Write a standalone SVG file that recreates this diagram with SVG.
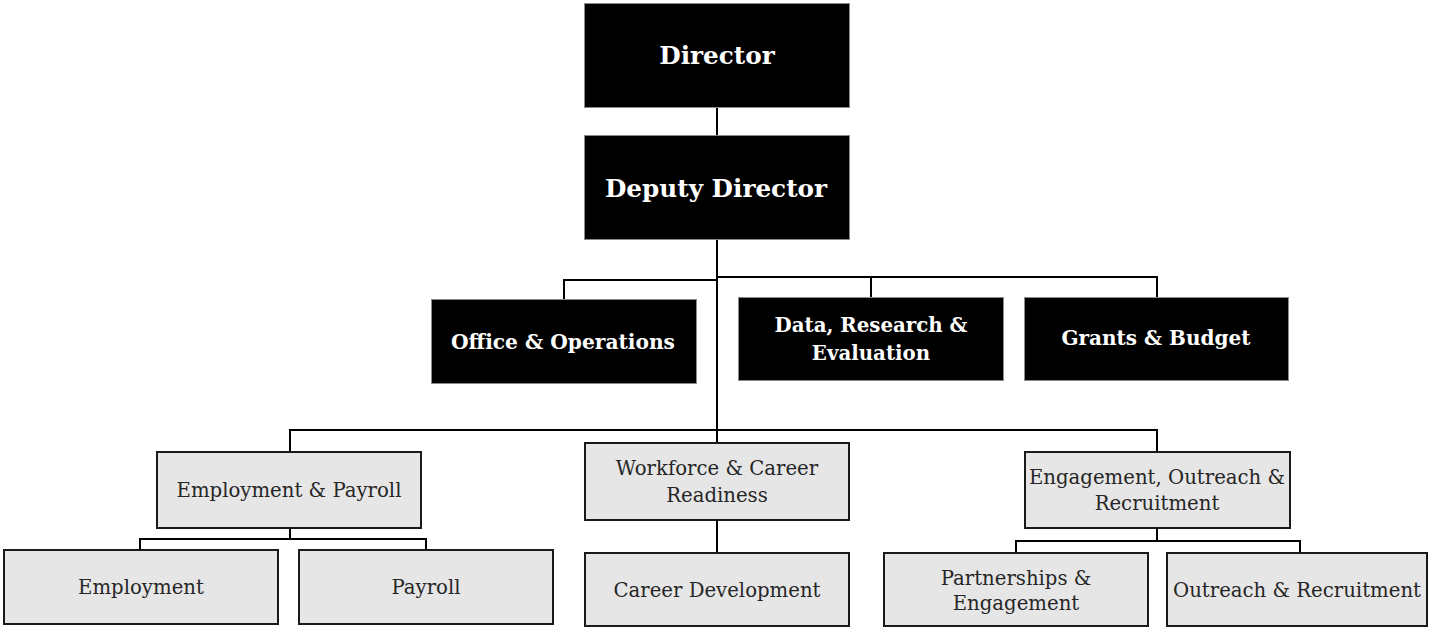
<svg xmlns="http://www.w3.org/2000/svg" width="1429" height="628" viewBox="0 0 1429 628">
<style>
.bk{fill:#000;stroke:#8a8a8a;stroke-width:1}
.gr{fill:#e6e6e6;stroke:#1a1a1a;stroke-width:2}
.tb{font-family:"DejaVu Serif","Liberation Serif",serif;font-weight:bold;fill:#fff;text-anchor:middle;dominant-baseline:central}
.tg{font-family:"DejaVu Serif","Liberation Serif",serif;fill:#262626;text-anchor:middle;dominant-baseline:central;font-size:19.7px}
.cn{fill:none;stroke:#000;stroke-width:2}
</style>
<rect width="1429" height="628" fill="#fff"/>
<g id="connectors">
<path class="cn" d="M717 107V135"/>
<path class="cn" d="M717 240V443"/>
<path class="cn" d="M564 299V280H717"/>
<path class="cn" d="M717 277H1157V297M871 277V297"/>
<path class="cn" d="M290 452V430H1157V452"/>
<path class="cn" d="M290 528V539M140 550V539H426V550"/>
<path class="cn" d="M717 520V553"/>
<path class="cn" d="M1157 528V541M1016 553V541H1300V553"/>
</g>
<g id="director"><rect class="bk" x="584.5" y="3.5" width="265" height="104"/><text class="tb" x="717" y="55" font-size="24.7">Director</text></g>
<g id="deputy"><rect class="bk" x="584.5" y="135.5" width="265" height="104"/><text class="tb" x="716" y="188" font-size="24.7">Deputy Director</text></g>
<g id="office"><rect class="bk" x="431.5" y="299.5" width="265" height="84"/><text class="tb" x="563" y="342" font-size="20.2">Office &amp; Operations</text></g>
<g id="data"><rect class="bk" x="738.5" y="297.5" width="265" height="83"/><text class="tb" x="871" y="325" font-size="19.8">Data, Research &amp;</text><text class="tb" x="871" y="353" font-size="19.8">Evaluation</text></g>
<g id="grants"><rect class="bk" x="1024.5" y="297.5" width="264" height="83"/><text class="tb" x="1156" y="338" font-size="20">Grants &amp; Budget</text></g>
<g id="emppay"><rect class="gr" x="157" y="452" width="264" height="76"/><text class="tg" x="289" y="490">Employment &amp; Payroll</text></g>
<g id="workforce"><rect class="gr" x="585" y="443" width="264" height="77"/><text class="tg" x="717" y="468">Workforce &amp; Career</text><text class="tg" x="717" y="495">Readiness</text></g>
<g id="engagement"><rect class="gr" x="1025" y="452" width="265" height="76"/><text class="tg" x="1157" y="477">Engagement, Outreach &amp;</text><text class="tg" x="1157" y="503">Recruitment</text></g>
<g id="employment"><rect class="gr" x="4" y="550" width="274" height="74"/><text class="tg" x="141" y="587">Employment</text></g>
<g id="payroll"><rect class="gr" x="299" y="550" width="254" height="74"/><text class="tg" x="426" y="587">Payroll</text></g>
<g id="careerdev"><rect class="gr" x="585" y="553" width="264" height="73"/><text class="tg" x="717" y="590">Career Development</text></g>
<g id="partnerships"><rect class="gr" x="884" y="553" width="264" height="73"/><text class="tg" x="1016" y="578">Partnerships &amp;</text><text class="tg" x="1016" y="603">Engagement</text></g>
<g id="outreach"><rect class="gr" x="1167" y="553" width="260" height="73"/><text class="tg" x="1297" y="590">Outreach &amp; Recruitment</text></g>
</svg>
